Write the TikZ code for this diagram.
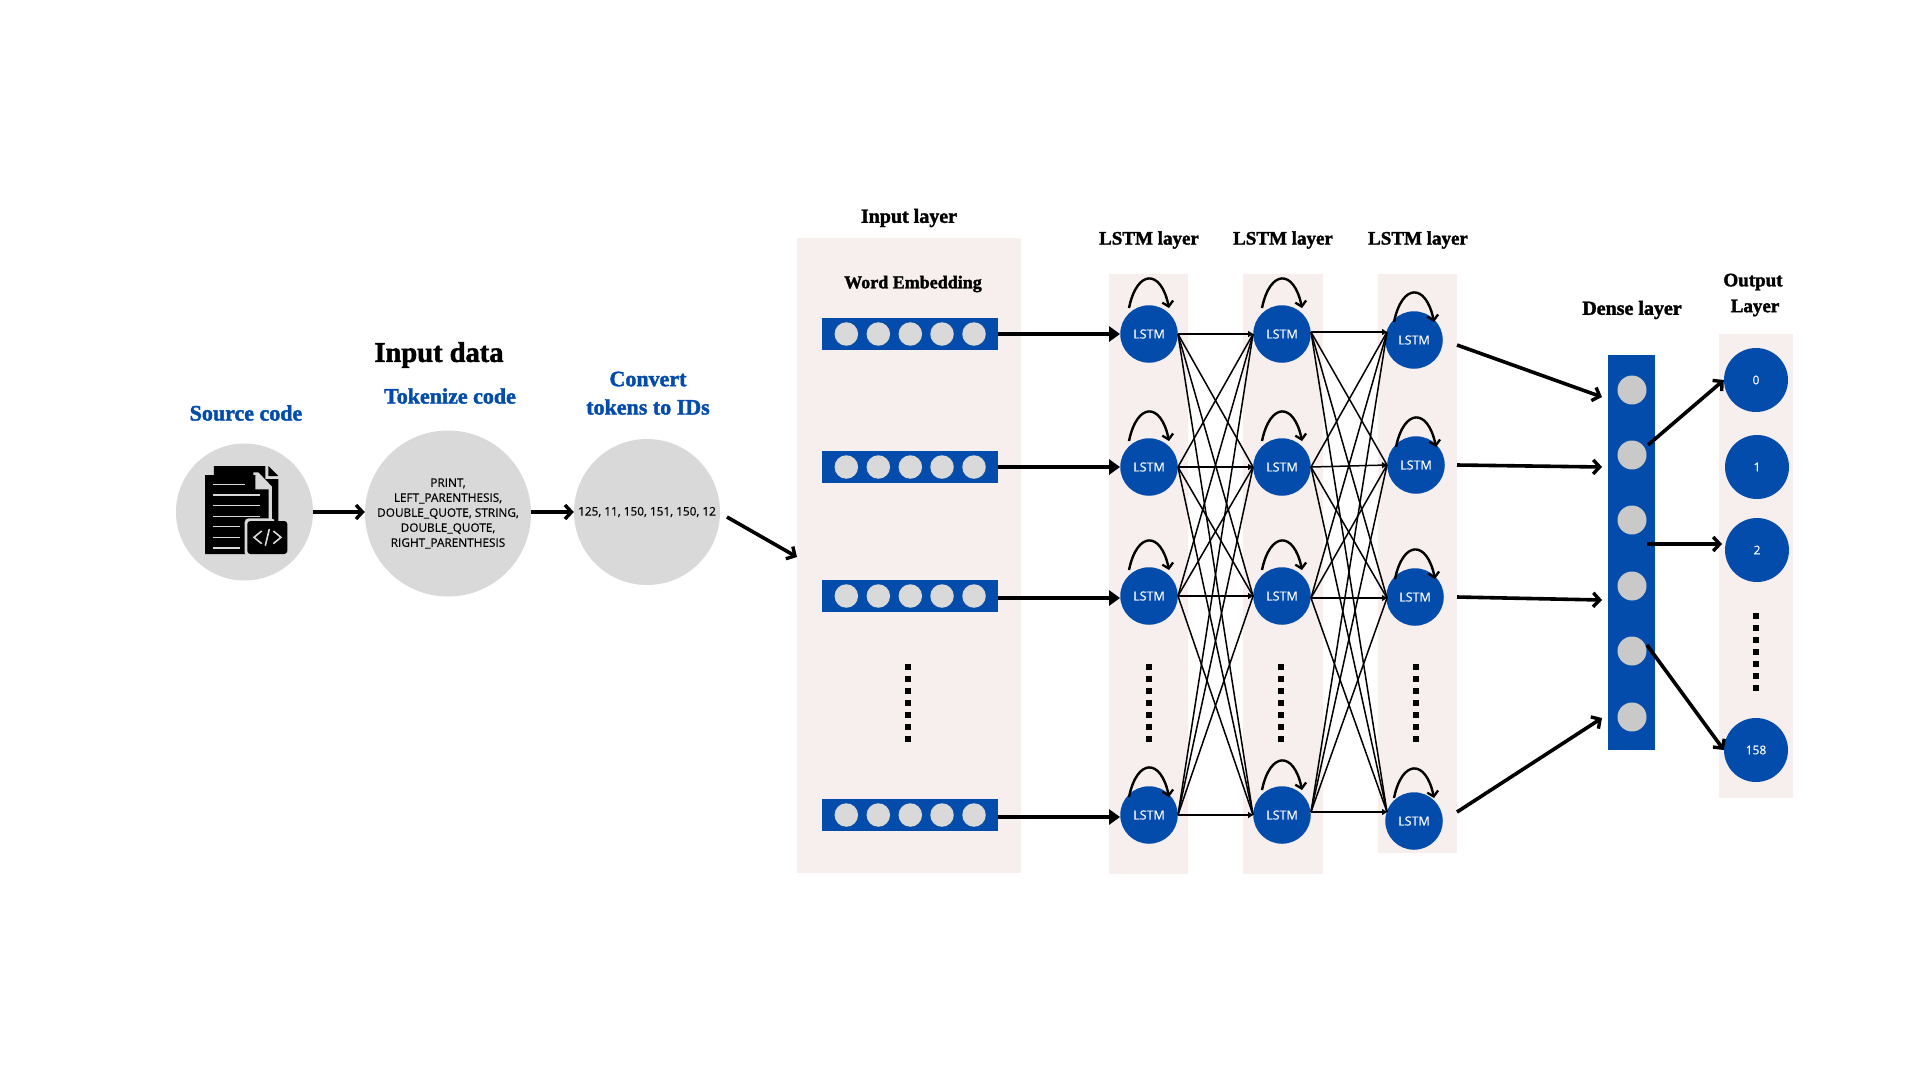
\documentclass[tikz,border=0pt]{standalone}
\usepackage{fontspec}
\usetikzlibrary{arrows.meta,calc}
\newfontfamily\dfont[FakeBold=1.8]{Liberation Serif Bold}
\newfontfamily\lfont[FakeBold=0.4]{Open Sans}
\definecolor{nnblue}{HTML}{034CAB}
\definecolor{panel}{HTML}{F7EFEE}
\definecolor{bubble}{HTML}{D9D9D9}
\definecolor{dense}{HTML}{C9C9C9}
\newcommand{\selfloop}[2]{\draw[loopline] ($(#1)+(-20,-#2)$) .. controls ($(#1)+(-12,-#2-39)$) and ($(#1)+(12,-#2-39)$) .. ($(#1)+(20,-#2)$);}
\tikzset{
  panelbox/.style={fill=panel,draw=none},
  bluebar/.style={fill=nnblue,draw=none,rectangle,inner sep=0pt},
  emb/.style={circle,fill=bubble,draw=none,minimum size=23.5pt,inner sep=0pt},
  dn/.style={circle,fill=dense,draw=none,minimum size=29pt,inner sep=0pt},
  bubblenode/.style={circle,fill=bubble,draw=none,inner sep=0pt,align=center,font=\fontsize{11.8}{15}\selectfont\lfont},
  lstm/.style={circle,fill=nnblue,draw=none,minimum size=57.5pt,inner sep=0pt,text=white,font=\fontsize{12.5}{14}\selectfont\lfont},
  outn/.style={circle,fill=nnblue,draw=none,minimum size=64pt,inner sep=0pt,text=white,font=\fontsize{12}{14}\selectfont\lfont},
  title/.style={font=\fontsize{19}{24}\selectfont\dfont,text=black,inner sep=0pt},
  title2/.style={font=\fontsize{20}{24}\selectfont\dfont,text=black,inner sep=0pt},
  title3/.style={font=\fontsize{18}{24}\selectfont\dfont,text=black,inner sep=0pt},
  bigtitle/.style={font=\fontsize{28.5}{32}\selectfont\dfont,text=black,inner sep=0pt},
  bluetitle/.style={font=\fontsize{22}{28}\selectfont\dfont,text=nnblue,inner sep=0pt},
  bigarrow/.style={draw=black,line width=3.6pt,-{Straight Barb[length=6.5pt,width=14pt,line width=3.4pt]}},
  feedarrow/.style={draw=black,line width=4pt,-{Triangle[length=11pt,width=15pt]}},
  thinarrow/.style={draw=black,line width=1.5pt},
  thinhead/.style={draw=black,line width=1.5pt,-{Triangle[length=5pt,width=6pt]}},
  loopline/.style={draw=black,line width=2.4pt,-{Straight Barb[length=5pt,width=11pt,line width=2.3pt]}},
  vdotsline/.style={draw=black,line width=6pt,dash pattern=on 6pt off 6pt},
}
\begin{document}
\begin{tikzpicture}[x=1pt,y=-1pt]
\useasboundingbox (0,0) rectangle (1920,1080);
\fill[white] (0,0) rectangle (1920,1080);
% panels
\fill[panelbox] (797,238) rectangle (1021,873);
\fill[panelbox] (1109,274) rectangle (1188,874);
\fill[panelbox] (1243,274) rectangle (1323,874);
\fill[panelbox] (1378,274) rectangle (1457,853);
\fill[panelbox] (1719,334) rectangle (1793,798);
% titles
\node[bigtitle] (tInput) at (439,355) {Input data};
\node[bluetitle] (tToken) at (450,396) {Tokenize code};
\node[bluetitle] (tSource) at (246,413) {Source code};
\node[bluetitle] (tConv1) at (648,379) {Convert};
\node[bluetitle] (tConv2) at (648,407) {tokens to IDs};
\node[title2] (tIL) at (909,218) {Input layer};
\node[title3] (tWE) at (913,284) {Word Embedding};
\node[title] (tL1) at (1149,240) {LSTM layer};
\node[title] (tL2) at (1283,240) {LSTM layer};
\node[title] (tL3) at (1418,240) {LSTM layer};
\node[title2] (tDL) at (1632,310) {Dense layer};
\node[title] (tO1) at (1753,282) {Output};
\node[title] (tO2) at (1755,308) {Layer};
% input bubbles
\node[bubblenode,minimum size=137pt] (src) at (244.5,512) {};
\node[bubblenode,minimum size=166pt] (tok) at (448,513.5) {PRINT,\\LEFT\_PARENTHESIS,\\DOUBLE\_QUOTE, STRING,\\DOUBLE\_QUOTE,\\RIGHT\_PARENTHESIS};
\node[bubblenode,minimum size=146pt] (conv) at (647,512) {125, 11, 150, 151, 150, 12};
% document icon
\begin{scope}[shift={(190,455)},x=0.3333pt,y=-0.3333pt]
  \fill[black] (72,33) -- (226,33) -- (226,72) -- (265,72) -- (265,215) -- (72,215) -- cycle;
  \fill[black] (235,33) -- (265,63) -- (235,63) -- cycle;
  \fill[bubble] (190,52) -- (205,52) -- (246,95) -- (246,205) -- (190,205) -- cycle;
  \fill[black] (45,60) -- (196,60) -- (196,103) -- (236,103) -- (236,297) -- (45,297) -- cycle;
  \fill[bubble] (199,62) -- (235,99) -- (212,99) to[out=180,in=90] (199,86) -- cycle;
  \foreach \yy/\xe in {88/165,120/210,152/210,184/210,215/150,247/150,279/150}
    \draw[bubble,line width=1.3pt] (68,\yy) -- (\xe,\yy);
  \fill[bubble,rounded corners=4pt] (164,190) rectangle (255,305);
  \fill[black,rounded corners=3pt] (172,198) rectangle (292,297);
  \draw[bubble,line width=1.6pt] (215,228) -- (192,247) -- (215,266);
  \draw[bubble,line width=1.6pt] (250,228) -- (273,247) -- (250,266);
  \draw[bubble,line width=1.6pt] (238,222) -- (226,272);
\end{scope}
% embedding rows
\foreach \n/\yy in {1/334,2/467,3/596,4/815}{
  \node[bluebar,minimum width=176pt,minimum height=32pt] (bar\n) at (910,\yy) {};
  \foreach \m/\xx in {1/846.3,2/878.3,3/910.3,4/942,5/974}
    \node[emb] (e\n\m) at (\xx,\yy) {};
}
% lstm nodes
\foreach \n/\yy in {1/334,2/467,3/596,4/815}{
  \node[lstm] (a\n) at (1149,\yy) {LSTM};
  \node[lstm] (b\n) at (1282,\yy) {LSTM};
}
\node[lstm] (c1) at (1414,340) {LSTM};
\node[lstm] (c2) at (1416,465) {LSTM};
\node[lstm] (c3) at (1415,597) {LSTM};
\node[lstm] (c4) at (1414,821) {LSTM};
% connector anchors
\coordinate (bo1) at (1311,332);\coordinate (bo2) at (1311,467);\coordinate (bo3) at (1311,598);\coordinate (bo4) at (1311,812);
\coordinate (ci1) at (1387,332);\coordinate (ci2) at (1387,465);\coordinate (ci3) at (1387,598);\coordinate (ci4) at (1387,812);
% full connections
\foreach \i in {1,2,3,4}{
  \foreach \j in {1,2,3,4}{
    \ifnum\i=\j\relax
      \draw[thinhead] (a\i.east) -- (b\j.west);
      \draw[thinhead] (bo\i) -- (ci\j);
    \else
      \draw[thinarrow] (a\i.east) -- (b\j.west);
      \draw[thinarrow] (bo\i) -- (ci\j);
    \fi
  }
}
% self loops
\foreach \n in {a1,a2,a3,b1,b2,b3}{\selfloop{\n}{26}}
\selfloop{a4}{18}
\selfloop{b4}{25}
\selfloop{c1}{18}
\selfloop{c2}{18}
\selfloop{c3}{18}
\selfloop{c4}{23}
% feed arrows
\draw[feedarrow] (bar1.east) -- (a1.west);
\draw[feedarrow] (bar2.east) -- (a2.west);
\draw[feedarrow] ([yshift=-2pt]bar3.east) -- ([yshift=-2pt]a3.west);
\draw[feedarrow] ([yshift=-2pt]bar4.east) -- ([yshift=-2pt]a4.west);
% vertical dots
\draw[vdotsline] (908,664) -- (908,742);
\draw[vdotsline] (1149,664) -- (1149,742);
\draw[vdotsline] (1281,664) -- (1281,742);
\draw[vdotsline] (1416,664) -- (1416,742);
\draw[vdotsline] (1756,613) -- (1756,691);
% dense
\node[bluebar,minimum width=47pt,minimum height=395pt] (dbar) at (1631.5,552.5) {};
\foreach \n/\yy in {1/390,2/455,3/520,4/586,5/651,6/717}
  \node[dn] (d\n) at (1632,\yy) {};
% outputs
\node[outn] (o0) at (1756,380) {0};
\node[outn] (o1) at (1757,467) {1};
\node[outn] (o2) at (1757,550) {2};
\node[outn] (o158) at (1756,750) {158};
% big arrows
\draw[bigarrow] (src.east) -- (src.east -| tok.west);
\draw[bigarrow] (tok.east |- conv.east) -- (conv.west);
\coordinate (x0) at (727,517);\coordinate (x1) at (797,557);
\draw[bigarrow] (x0) -- (x1);
\coordinate (p1) at (1457,345);\coordinate (q1) at (1602,397);
\coordinate (p2) at (1457,465);\coordinate (q2) at (1602,467);
\coordinate (p3) at (1457,597);\coordinate (q3) at (1602,600);
\coordinate (p4) at (1457,812);\coordinate (q4) at (1602,718);
\draw[bigarrow] (p1) -- (q1);
\draw[bigarrow] (p2) -- (q2);
\draw[bigarrow] (p3) -- (q3);
\draw[bigarrow] (p4) -- (q4);
\coordinate (r1) at (1648,445);\coordinate (r2) at (1647,544);\coordinate (r3) at (1647,645);
\draw[bigarrow] (r1) -- (o0.west);
\draw[bigarrow] (r2) -- (1722,544);
\draw[bigarrow] (r3) -- (o158.west);
\end{tikzpicture}
\end{document}
